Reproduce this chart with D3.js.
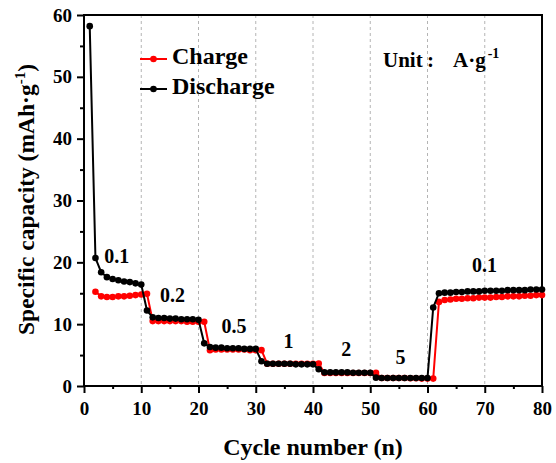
<!DOCTYPE html>
<html>
<head>
<meta charset="utf-8">
<script src="https://cdn.jsdelivr.net/npm/d3@7"></script>
<style>
  html, body { margin: 0; padding: 0; background: #fff; }
  svg { display: block; }
  svg text { font-family: "Liberation Serif", "DejaVu Serif", serif !important; font-weight: bold; fill: #000; }
</style>
</head>
<body>
<svg id="chart" width="556" height="463"></svg>
<script>
// ---------------- DATA ----------------
const dischargeCycles = d3.range(1, 81);
const dischargeValues = [
  58.2, 20.7, 18.4, 17.6, 17.3, 17.1, 16.9, 16.8, 16.6, 16.4,
  12.2, 11.1, 11.0, 11.0, 10.9, 10.9, 10.8, 10.8, 10.8, 10.7,
  6.9, 6.3, 6.2, 6.2, 6.1, 6.1, 6.1, 6.0, 6.0, 6.0,
  4.0, 3.6, 3.6, 3.6, 3.6, 3.6, 3.5, 3.5, 3.5, 3.5,
  2.7, 2.2, 2.2, 2.2, 2.2, 2.2, 2.15, 2.15, 2.15, 2.15,
  1.35, 1.3, 1.3, 1.3, 1.3, 1.3, 1.3, 1.3, 1.3, 1.3,
  12.7, 15.0, 15.1, 15.1, 15.2, 15.2, 15.3, 15.3, 15.3, 15.4,
  15.4, 15.4, 15.4, 15.5, 15.5, 15.5, 15.5, 15.6, 15.6, 15.6
];
const chargeCycles = d3.range(2, 81);
const chargeValues = [
  15.25, 14.5, 14.4, 14.4, 14.5, 14.5, 14.6, 14.7, 14.8, 14.9,
  10.5, 10.5, 10.5, 10.5, 10.5, 10.5, 10.4, 10.4, 10.4, 10.4,
  5.8, 5.9, 5.9, 5.9, 5.9, 5.9, 5.9, 5.8, 5.8, 5.8,
  3.6, 3.6, 3.6, 3.6, 3.6, 3.6, 3.6, 3.6, 3.6, 3.65,
  2.1, 2.1, 2.1, 2.1, 2.1, 2.1, 2.1, 2.1, 2.1, 2.15,
  1.3, 1.3, 1.3, 1.3, 1.3, 1.25, 1.25, 1.2, 1.2, 1.2,
  13.6, 13.9, 14.0, 14.1, 14.1, 14.2, 14.2, 14.3, 14.3, 14.3,
  14.4, 14.4, 14.5, 14.5, 14.5, 14.6, 14.6, 14.7, 14.7
];
const seriesNames = ["Charge", "Discharge"];
const seriesColors = ["#ff0000", "#000000"];
const rateLabels = ["0.1", "0.2", "0.5", "1", "2", "5", "0.1"];
const xTicks = [0, 10, 20, 30, 40, 50, 60, 70, 80];
const yTicks = [0, 10, 20, 30, 40, 50, 60];
const gridCycles = [10, 20, 30, 40, 50, 60, 70];

// ---------------- LAYOUT ----------------
const rateLabelAnchors = [[5.7, 19.9], [15.45, 13.6], [26.2, 8.5], [35.7, 6.1], [45.8, 4.85], [55.3, 3.5], [69.95, 18.5]];
const L = { left: 84, right: 542, top: 15, bottom: 386 };

const svg = d3.select("#chart");
svg.append("rect").attr("width", 556).attr("height", 463).attr("fill", "#fff");

const x = d3.scaleLinear().domain([0, 80]).range([L.left, L.right]);
const y = d3.scaleLinear().domain([0, 60]).range([L.bottom, L.top]);

// grid lines
svg.append("g").selectAll("line").data(gridCycles).join("line")
  .attr("x1", d => x(d)).attr("x2", d => x(d))
  .attr("y1", L.top).attr("y2", L.bottom)
  .attr("stroke", "#b4b4b4").attr("stroke-width", 1).attr("stroke-dasharray", "3,3");

// axes
const xMinor = d3.axisBottom(x).tickValues(d3.range(5, 80, 10)).tickSize(3).tickFormat("");
const yMinor = d3.axisLeft(y).tickValues(d3.range(5, 60, 10)).tickSize(4).tickFormat("");
const xMajor = d3.axisBottom(x).tickValues(xTicks).tickSize(7).tickSizeOuter(0).tickPadding(0);
const yMajor = d3.axisLeft(y).tickValues(yTicks).tickSize(7).tickSizeOuter(0).tickPadding(5);

function styleAxis(g) {
  g.attr("font-family", null).attr("font-size", null);
  g.select(".domain").remove();
  g.selectAll(".tick line").attr("stroke", "#000").attr("stroke-width", 2);
  g.selectAll("text").attr("font-size", 19).attr("fill", "#000");
}
svg.append("g").attr("transform", `translate(0,${L.bottom})`).call(xMinor).call(styleAxis);
svg.append("g").attr("transform", `translate(${L.left},0)`).call(yMinor).call(styleAxis);
const gx = svg.append("g").attr("transform", `translate(0,${L.bottom})`).call(xMajor).call(styleAxis);
gx.selectAll(".tick text").attr("y", 29).attr("dy", null);
svg.append("g").attr("transform", `translate(${L.left},0)`).call(yMajor).call(styleAxis);

// frame
svg.append("rect")
  .attr("x", L.left).attr("y", L.top)
  .attr("width", L.right - L.left).attr("height", L.bottom - L.top)
  .attr("fill", "none").attr("stroke", "#000").attr("stroke-width", 2);

// series
const series = [
  { name: seriesNames[0], color: seriesColors[0], pts: chargeCycles.map((c, i) => [c, chargeValues[i]]) },
  { name: seriesNames[1], color: seriesColors[1], pts: dischargeCycles.map((c, i) => [c, dischargeValues[i]]) }
];
const line = d3.line().x(d => x(d[0])).y(d => y(d[1]));
series.forEach(s => {
  const g = svg.append("g");
  g.append("path").attr("d", line(s.pts)).attr("fill", "none")
    .attr("stroke", s.color).attr("stroke-width", 2);
  g.selectAll("circle").data(s.pts).join("circle")
    .attr("cx", d => x(d[0])).attr("cy", d => y(d[1])).attr("r", 3.3)
    .attr("fill", s.color);
});

// rate labels
svg.append("g").selectAll("text").data(rateLabels).join("text")
  .attr("x", (d, i) => x(rateLabelAnchors[i][0]))
  .attr("y", (d, i) => y(rateLabelAnchors[i][1]))
  .attr("text-anchor", "middle").attr("font-size", 20).text(d => d);

// legend
const leg = svg.append("g");
series.forEach((s, i) => {
  const ly = 59 + i * 30;
  leg.append("line").attr("x1", 140).attr("x2", 167).attr("y1", ly).attr("y2", ly)
    .attr("stroke", s.color).attr("stroke-width", 2);
  leg.append("circle").attr("cx", 153.5).attr("cy", ly).attr("r", 3.3).attr("fill", s.color);
  leg.append("text").attr("x", 172).attr("y", ly + 4.5 + i * 0.5).attr("font-size", 24).text(s.name);
});

// unit
const unit = svg.append("text").attr("y", 66.7).attr("font-size", 21);
unit.append("tspan").attr("x", 383).text("Unit");
unit.append("tspan").attr("x", 427).text(":");
unit.append("tspan").attr("x", 453).text("A·g");
unit.append("tspan").attr("dx", 2).attr("dy", -9).attr("font-size", 14).text("-1");

// axis titles
svg.append("text").attr("x", (L.left + L.right) / 2).attr("y", 455)
  .attr("text-anchor", "middle").attr("font-size", 24).text("Cycle number (n)");
const yt = svg.append("text")
  .attr("transform", `translate(33.5,${(L.top + L.bottom) / 2 - 1}) rotate(-90)`)
  .attr("text-anchor", "middle").attr("font-size", 23.5);
yt.append("tspan").text("Specific capacity (mAh·g");
yt.append("tspan").attr("dy", -9).attr("font-size", 15).text("-1");
yt.append("tspan").attr("dy", 9).text(")");
</script>
</body>
</html>
